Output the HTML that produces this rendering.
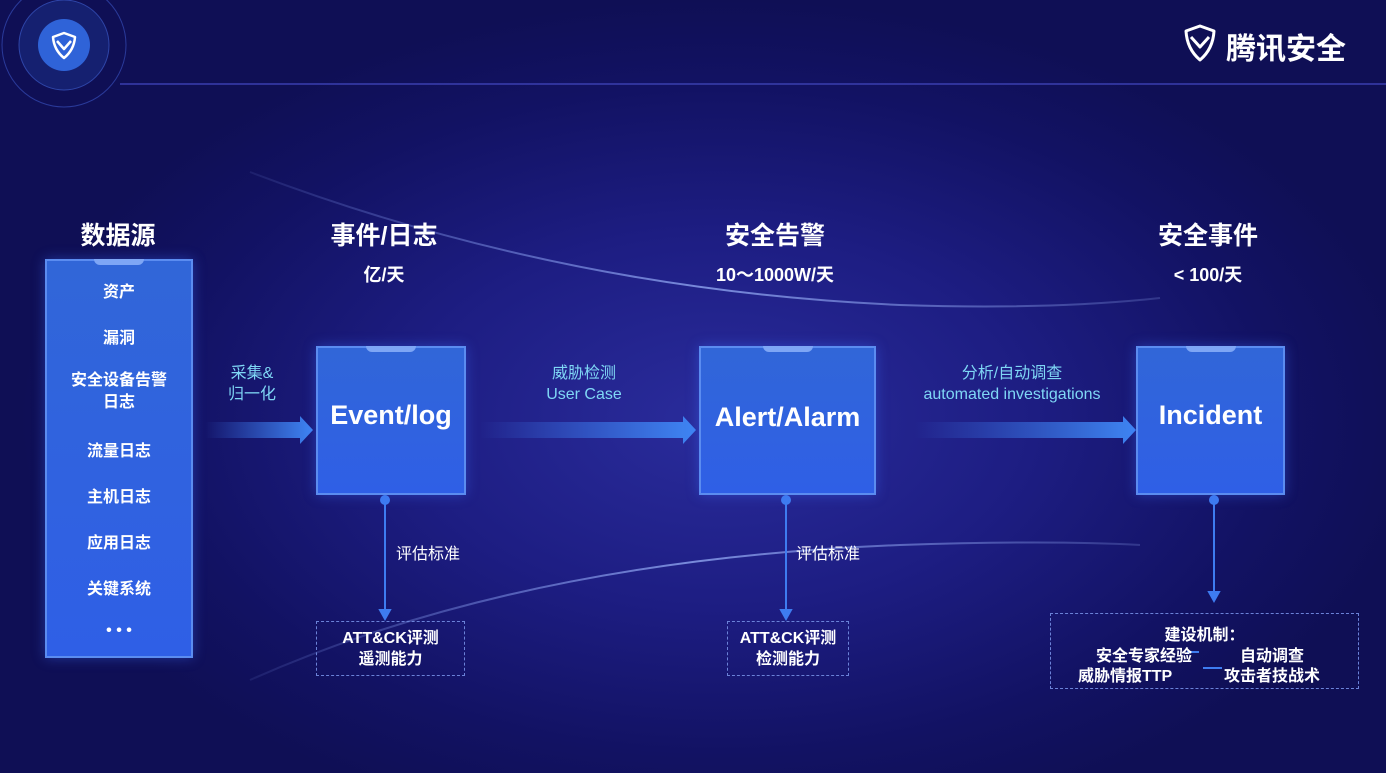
<!DOCTYPE html>
<html><head><meta charset="utf-8"><style>
*{margin:0;padding:0;box-sizing:border-box}
body{width:1386px;height:773px;overflow:hidden;position:relative;
background:radial-gradient(ellipse 700px 420px at 720px 420px,#2a2c9c 0%,#1d1d82 45%,#121263 80%,#0f0f55 100%);
font-family:"Liberation Sans","Noto Sans CJK SC",sans-serif;color:#fff}
.a{position:absolute}
.t{position:absolute;font-weight:bold;text-align:center;white-space:nowrap}
.box{position:absolute;background:linear-gradient(180deg,#3166d8,#2f5fe6);border:2px solid #5b8cf0;box-shadow:0 0 12px rgba(60,110,255,.4)}
.box .n{position:absolute;top:-2px;left:50%;transform:translateX(-50%);width:50px;height:6px;background:#7ea6f5;border-radius:0 0 8px 8px}
.lbl{position:absolute;color:#7fd7f5;font-size:16px;text-align:center;white-space:nowrap;line-height:21px}
.dash{position:absolute;border:1px dashed #6b82d8}
</style></head><body>
<svg class="a" style="left:0;top:0" width="1386" height="773">
<defs>
<linearGradient id="ar" x1="0" x2="1"><stop offset="0" stop-color="#3b7cf0" stop-opacity="0"/><stop offset="1" stop-color="#3f86f4"/></linearGradient>
<linearGradient id="cv" x1="0" x2="1"><stop offset="0" stop-color="#8fa8ff" stop-opacity=".1"/><stop offset=".5" stop-color="#9fb8ff" stop-opacity=".7"/><stop offset="1" stop-color="#9fb8ff" stop-opacity=".2"/></linearGradient>
</defs>
<circle cx="64" cy="45" r="62" fill="none" stroke="#2a3a9a" stroke-width="1"/>
<circle cx="64" cy="45" r="45" fill="#152070" stroke="#2e45a8" stroke-width="1"/>
<circle cx="64" cy="45" r="26" fill="#2f63d8"/>
<path d="M53 37 L64 33 L75 37 Q74 50 64 58 Q54 50 53 37 Z M57 41 L64 49 L71 41" fill="none" stroke="#fff" stroke-width="2.5" stroke-linejoin="round"/>
<line x1="120" y1="84" x2="1386" y2="84" stroke="#3a3fb0" stroke-width="1.5"/>
<path d="M250 172 Q560 290 900 305 Q1050 310 1160 298" fill="none" stroke="url(#cv)" stroke-width="2"/>
<path d="M250 680 Q520 560 900 545 Q1050 540 1140 545" fill="none" stroke="url(#cv)" stroke-width="2"/>
<path d="M205 422 H300 V416 L313 430 L300 444 V438 H205 Z" fill="url(#ar)"/>
<path d="M480 422 H683 V416 L696 430 L683 444 V438 H480 Z" fill="url(#ar)"/>
<path d="M915 422 H1123 V416 L1136 430 L1123 444 V438 H915 Z" fill="url(#ar)"/>
<g stroke="#3e7cf0" stroke-width="2" fill="#3e7cf0">
<line x1="385" y1="498" x2="385" y2="612"/><circle cx="385" cy="500" r="4"/><path d="M380 610 L385 619 L390 610Z"/>
<line x1="786" y1="498" x2="786" y2="612"/><circle cx="786" cy="500" r="4"/><path d="M781 610 L786 619 L791 610Z"/>
<line x1="1214" y1="498" x2="1214" y2="594"/><circle cx="1214" cy="500" r="4"/><path d="M1209 592 L1214 601 L1219 592Z"/>
<line x1="1187" y1="652" x2="1199" y2="652"/><line x1="1203" y1="668" x2="1222" y2="668"/>
</g>
<path d="M1186 31 L1200 26 L1214 31 Q1213 49 1200 60 Q1187 49 1186 31 Z M1191 37 L1200 47 L1209 37" fill="none" stroke="#fff" stroke-width="3" stroke-linejoin="round"/>
</svg>
<div class="t" style="left:1226px;top:24px;font-size:30px;font-weight:bold">腾讯安全</div>

<div class="t" style="left:58px;top:216px;width:120px;font-size:25px">数据源</div>
<div class="t" style="left:304px;top:216px;width:160px;font-size:25px">事件/日志</div>
<div class="t" style="left:324px;top:261px;width:120px;font-size:18px">亿/天</div>
<div class="t" style="left:695px;top:216px;width:160px;font-size:25px">安全告警</div>
<div class="t" style="left:680px;top:261px;width:190px;font-size:18px">10～1000W/天</div>
<div class="t" style="left:1128px;top:216px;width:160px;font-size:25px">安全事件</div>
<div class="t" style="left:1128px;top:261px;width:160px;font-size:18px">&lt; 100/天</div>

<div class="box" style="left:45px;top:259px;width:148px;height:399px"><div class="n"></div></div>
<div class="t" style="left:45px;top:278px;width:148px;font-size:16px">资产</div>
<div class="t" style="left:45px;top:324px;width:148px;font-size:16px">漏洞</div>
<div class="t" style="left:45px;top:370px;width:148px;font-size:16px;line-height:22px">安全设备告警<br>日志</div>
<div class="t" style="left:45px;top:437px;width:148px;font-size:16px">流量日志</div>
<div class="t" style="left:45px;top:483px;width:148px;font-size:16px">主机日志</div>
<div class="t" style="left:45px;top:529px;width:148px;font-size:16px">应用日志</div>
<div class="t" style="left:45px;top:575px;width:148px;font-size:16px">关键系统</div>
<div class="t" style="left:45px;top:622px;width:148px;font-size:16px">• • •</div>

<div class="box" style="left:316px;top:346px;width:150px;height:149px"><div class="n"></div></div>
<div class="t" style="left:316px;top:400px;width:150px;font-size:27px">Event/log</div>
<div class="box" style="left:699px;top:346px;width:177px;height:149px"><div class="n"></div></div>
<div class="t" style="left:699px;top:402px;width:177px;font-size:27px">Alert/Alarm</div>
<div class="box" style="left:1136px;top:346px;width:149px;height:149px"><div class="n"></div></div>
<div class="t" style="left:1136px;top:400px;width:149px;font-size:27px">Incident</div>

<div class="lbl" style="left:212px;top:363px;width:80px">采集&amp;<br>归一化</div>
<div class="lbl" style="left:524px;top:363px;width:120px">威胁检测<br>User Case</div>
<div class="lbl" style="left:902px;top:363px;width:220px">分析/自动调查<br>automated investigations</div>

<div class="a" style="left:396px;top:540px;font-size:16px;color:#fff">评估标准</div>
<div class="a" style="left:796px;top:540px;font-size:16px;color:#fff">评估标准</div>

<div class="dash" style="left:316px;top:621px;width:149px;height:55px"></div>
<div class="t" style="left:316px;top:628px;width:149px;font-size:16px;line-height:21px">ATT&amp;CK评测<br>遥测能力</div>
<div class="dash" style="left:727px;top:621px;width:122px;height:55px"></div>
<div class="t" style="left:727px;top:628px;width:122px;font-size:16px;line-height:21px">ATT&amp;CK评测<br>检测能力</div>
<div class="dash" style="left:1050px;top:613px;width:309px;height:76px"></div>
<div class="t" style="left:1050px;top:621px;width:309px;font-size:16px">建设机制：</div>
<div class="t" style="left:1096px;top:642px;font-size:16px">安全专家经验</div>
<div class="t" style="left:1240px;top:642px;font-size:16px">自动调查</div>
<div class="t" style="left:1078px;top:662px;font-size:16px">威胁情报TTP</div>
<div class="t" style="left:1224px;top:662px;font-size:16px">攻击者技战术</div>
</body></html>
